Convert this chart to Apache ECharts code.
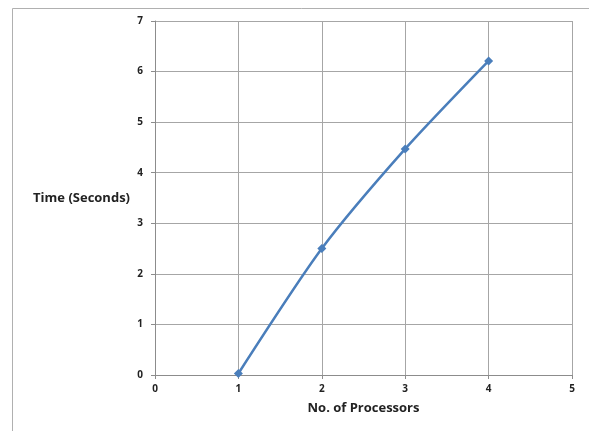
<!DOCTYPE html>
<html><head><meta charset="utf-8">
<script src="https://cdn.jsdelivr.net/npm/echarts@6/dist/echarts.min.js"></script>
<style>html,body{margin:0;padding:0;background:#fff}#c{width:589px;height:431px}</style>
</head><body><div id="c"></div>
<script>
const processors = [1, 2, 3, 4];
const timeSeconds = [0.03, 2.5, 4.47, 6.21];
const xTicks = [0, 1, 2, 3, 4, 5];
const yTicks = [0, 1, 2, 3, 4, 5, 6, 7];

const chart = echarts.init(document.getElementById('c'));
const font = '"Open Sans", "Liberation Sans", sans-serif';
chart.setOption({
  animation: false,
  backgroundColor: '#fff',
  graphic: [{
    type: 'rect', shape: {x: 12.5, y: 8.5, width: 590, height: 430},
    style: {fill: null, stroke: '#b0b0b0', lineWidth: 1}, silent: true
  }],
  grid: {left: 155, right: 17, top: 21, bottom: 56},
  xAxis: {
    type: 'value', min: xTicks[0], max: xTicks[xTicks.length - 1], interval: 1,
    name: 'No. of Processors', nameLocation: 'middle', nameGap: 27,
    nameTextStyle: {fontFamily: font, fontWeight: 'bold', fontSize: 13, color: '#222'},
    axisLine: {lineStyle: {color: '#8c8c8c', width: 1}},
    axisTick: {show: true, length: 4, lineStyle: {color: '#8c8c8c'}},
    axisLabel: {fontFamily: font, fontWeight: 'bold', fontSize: 10, color: '#222', margin: 9},
    splitLine: {show: true, lineStyle: {color: '#a6a6a6', width: 1}}
  },
  yAxis: {
    type: 'value', min: yTicks[0], max: yTicks[yTicks.length - 1], interval: 1,
    name: 'Time (Seconds)', nameLocation: 'middle', nameRotate: 0, nameGap: 25,
    nameTextStyle: {fontFamily: font, fontWeight: 'bold', fontSize: 13, color: '#222', align: 'right', padding: [4, 0, 0, 0]},
    axisLine: {show: true, lineStyle: {color: '#8c8c8c', width: 1}},
    axisTick: {show: true, length: 4, lineStyle: {color: '#8c8c8c'}},
    axisLabel: {fontFamily: font, fontWeight: 'bold', fontSize: 10, color: '#222', margin: 12},
    splitLine: {show: true, lineStyle: {color: '#a6a6a6', width: 1}}
  },
  series: [{
    type: 'line',
    data: processors.map((p, i) => [p, timeSeconds[i]]),
    smooth: 0.25,
    symbol: 'diamond', symbolSize: 9,
    lineStyle: {color: '#4a7ebb', width: 2.5},
    itemStyle: {color: '#4a7ebb'}
  }]
});
</script></body></html>
